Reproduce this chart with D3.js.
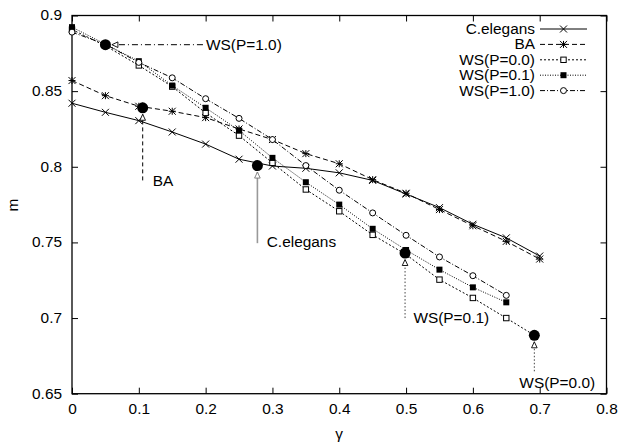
<!DOCTYPE html>
<html><head><meta charset="utf-8">
<script src="https://cdn.jsdelivr.net/npm/d3@7"></script>
<style>
html,body{margin:0;padding:0;background:#fff;}
svg text{font-family:"Liberation Sans",Arial,Helvetica,sans-serif;font-size:14px;fill:#000;}
</style></head>
<body><svg id="c" width="619" height="445"></svg>
<script>
// ---- data ----
const gammaValues = [0,0.05,0.1,0.15,0.2,0.25,0.3,0.35,0.4,0.45,0.5,0.55,0.6,0.65,0.7];
const celegans = [0.842,0.836,0.8305,0.823,0.815,0.805,0.8005,0.799,0.796,0.791,0.782,0.773,0.762,0.753,0.741];
const ba       = [0.857,0.847,0.840,0.8367,0.8325,0.825,0.818,0.8087,0.802,0.7915,0.7825,0.7717,0.761,0.7507,0.739];
const wsP00    = [0.8907,0.880,0.867,0.853,0.8356,0.8206,0.8026,0.785,0.7706,0.755,0.742,0.7254,0.7133,0.700];
const wsP00End = {g:0.692, m:0.6886};
const wsP01    = [0.8923,0.881,0.8698,0.8537,0.839,0.824,0.8059,0.7898,0.775,0.759,0.745,0.732,0.7203,0.7104];
const wsP10    = [0.889,0.881,0.869,0.8588,0.845,0.832,0.818,0.8008,0.7845,0.7695,0.7547,0.7404,0.728,0.715];
const seriesNames = ["C.elegans","BA","WS(P=0.0)","WS(P=0.1)","WS(P=1.0)"];
const xTicks = [0,0.1,0.2,0.3,0.4,0.5,0.6,0.7,0.8];
const yTicks = [0.65,0.7,0.75,0.8,0.85,0.9];
// annotations: dot (g,m), arrow start, label position
const annNames = ["WS(P=1.0)","BA","C.elegans","WS(P=0.1)","WS(P=0.0)"];
const annDotG  = [0.05,0.1058,0.2775,0.4985,0.692];
const annDotM  = [0.8807,0.839,0.8008,0.743,0.6886];
const annFromG = [0.196,0.1058,0.2775,0.4985,0.692];
const annFromM = [0.8807,0.791,0.7495,0.700,0.6648];
const annLabG  = [0.2006,0.121,0.2915,0.511,0.6696];
const annLabM  = [0.8807,0.7909,0.7505,0.7003,0.6571];

// ---- layout ----
const svg = d3.select("#c");
const x = d3.scaleLinear().domain([0,0.8]).range([72,606.5]);
const y = d3.scaleLinear().domain([0.65,0.9]).range([393.7,15.5]);
const STRETCH = 1.1;
function stretch(sel){
  sel.each(function(){
    const w = this.getComputedTextLength();
    this.setAttribute("textLength", (w*STRETCH).toFixed(2));
    this.setAttribute("lengthAdjust","spacingAndGlyphs");
  });
}

const g = svg.append("g");
const axB = d3.axisBottom(x).tickValues(xTicks).tickSize(-6).tickPadding(10.5).tickFormat(d=>String(d));
const axT = d3.axisTop(x).tickValues(xTicks).tickSize(-6).tickFormat("");
const axL = d3.axisLeft(y).tickValues(yTicks).tickSize(-6).tickPadding(10).tickFormat(d=>String(d));
const axR = d3.axisRight(y).tickValues(yTicks).tickSize(-6).tickFormat("");
function styleAxis(sel){
  sel.select(".domain").remove();
  sel.selectAll(".tick line").attr("stroke","#000").attr("stroke-width",1);
  sel.selectAll("text").attr("font-size",null).attr("font-family",null).style("font-size","14px");
}
g.append("g").attr("transform",`translate(0,${y(0.65)})`).call(axB).call(styleAxis);
g.append("g").attr("transform",`translate(0,${y(0.9)})`).call(axT).call(styleAxis);
g.append("g").attr("transform",`translate(${x(0)},0)`).call(axL).call(styleAxis);
g.append("g").attr("transform",`translate(${x(0.8)},0)`).call(axR).call(styleAxis);
g.selectAll(".tick text").call(stretch);
g.append("rect").attr("x",x(0)).attr("y",y(0.9)).attr("width",x(0.8)-x(0)).attr("height",y(0.65)-y(0.9))
  .attr("fill","none").attr("stroke","#000").attr("stroke-width",1.3);

svg.append("text").attr("x",339).attr("y",439).attr("text-anchor","middle").text("γ").call(stretch);
svg.append("text").attr("transform","translate(18,205) rotate(-90)").attr("text-anchor","middle").text("m").call(stretch);

// series
const specs = [
  {vals:celegans, dash:null, mk:"x"},
  {vals:ba, dash:"5,3", mk:"star"},
  {vals:wsP00, dash:"2,2", mk:"osq", extra:wsP00End},
  {vals:wsP01, dash:"1,1.5", mk:"fsq"},
  {vals:wsP10, dash:"5,2,1,2", mk:"oc"}
];
const line = d3.line().x(d=>x(d.g)).y(d=>y(d.m));
function marker(sel, type, cx, cy){
  const s=3.5;
  if(type==="x"){
    sel.append("path").attr("d",`M${cx-s},${cy-s}L${cx+s},${cy+s}M${cx-s},${cy+s}L${cx+s},${cy-s}`).attr("stroke","#000").attr("stroke-width",1);
  } else if(type==="star"){
    sel.append("path").attr("d",`M${cx-s},${cy-s}L${cx+s},${cy+s}M${cx-s},${cy+s}L${cx+s},${cy-s}M${cx-s},${cy}L${cx+s},${cy}M${cx},${cy-s}L${cx},${cy+s}`).attr("stroke","#000").attr("stroke-width",1);
  } else if(type==="osq"){
    sel.append("rect").attr("x",cx-2.7).attr("y",cy-2.7).attr("width",5.4).attr("height",5.4).attr("fill","#fff").attr("stroke","#000").attr("stroke-width",1);
  } else if(type==="fsq"){
    sel.append("rect").attr("x",cx-3).attr("y",cy-3).attr("width",6).attr("height",6).attr("fill","#000");
  } else if(type==="oc"){
    sel.append("circle").attr("cx",cx).attr("cy",cy).attr("r",3).attr("fill","#fff").attr("stroke","#000").attr("stroke-width",1);
  }
}
specs.forEach((s,i)=>{
  const pts = s.vals.map((v,j)=>({g:gammaValues[j], m:v}));
  const linePts = s.extra ? pts.concat([s.extra]) : pts;
  g.append("path").datum(linePts).attr("d",line).attr("fill","none").attr("stroke","#000")
    .attr("stroke-width",1).attr("stroke-dasharray",s.dash);
});
specs.forEach((s,i)=>{
  const mg = g.append("g");
  s.vals.forEach((v,j)=>marker(mg,s.mk,x(gammaValues[j]),y(v)));
});

// legend
seriesNames.forEach((n,i)=>{
  const ly = 29 + 15.4*i;
  const lg = svg.append("g");
  lg.append("text").attr("x",535).attr("y",ly).attr("dy","0.36em").attr("text-anchor","end").text(n).call(stretch);
  lg.append("line").attr("x1",540).attr("x2",587).attr("y1",ly).attr("y2",ly)
    .attr("stroke","#000").attr("stroke-width",1).attr("stroke-dasharray",specs[i].dash);
  marker(lg,specs[i].mk,563.5,ly);
});

// annotations
const annStyles = [
  {dash:"6,3,1,3", color:"#000", w:1},
  {dash:"4,3", color:"#000", w:1},
  {dash:null, color:"#999", w:1.6},
  {dash:"1.5,2", color:"#444", w:1},
  {dash:"1.5,2", color:"#444", w:1}
];
annNames.forEach((n,i)=>{
  const st = annStyles[i];
  const dx = x(annDotG[i]), dy = y(annDotM[i]);
  const fx = x(annFromG[i]), fy = y(annFromM[i]);
  const len = Math.hypot(dx-fx, dy-fy);
  const ux=(dx-fx)/len, uy=(dy-fy)/len;
  const tipx = dx-ux*6.5, tipy = dy-uy*6.5;
  g.append("line").attr("x1",fx).attr("y1",fy).attr("x2",tipx).attr("y2",tipy)
    .attr("stroke",st.color).attr("stroke-width",st.w).attr("stroke-dasharray",st.dash);
  const hl=6, hw=2.8;
  const bx=tipx-ux*hl, by=tipy-uy*hl;
  g.append("path").attr("d",`M${bx-uy*hw},${by+ux*hw}L${tipx},${tipy}L${bx+uy*hw},${by-ux*hw}Z`)
    .attr("fill","#fff").attr("stroke",st.color==="#999"?"#777":"#000").attr("stroke-width",0.9);
  g.append("circle").attr("cx",dx).attr("cy",dy).attr("r",5.5).attr("fill","#000");
  svg.append("text").attr("x",x(annLabG[i])).attr("y",y(annLabM[i])).attr("dy","0.36em").text(n).call(stretch);
});
</script></body></html>
